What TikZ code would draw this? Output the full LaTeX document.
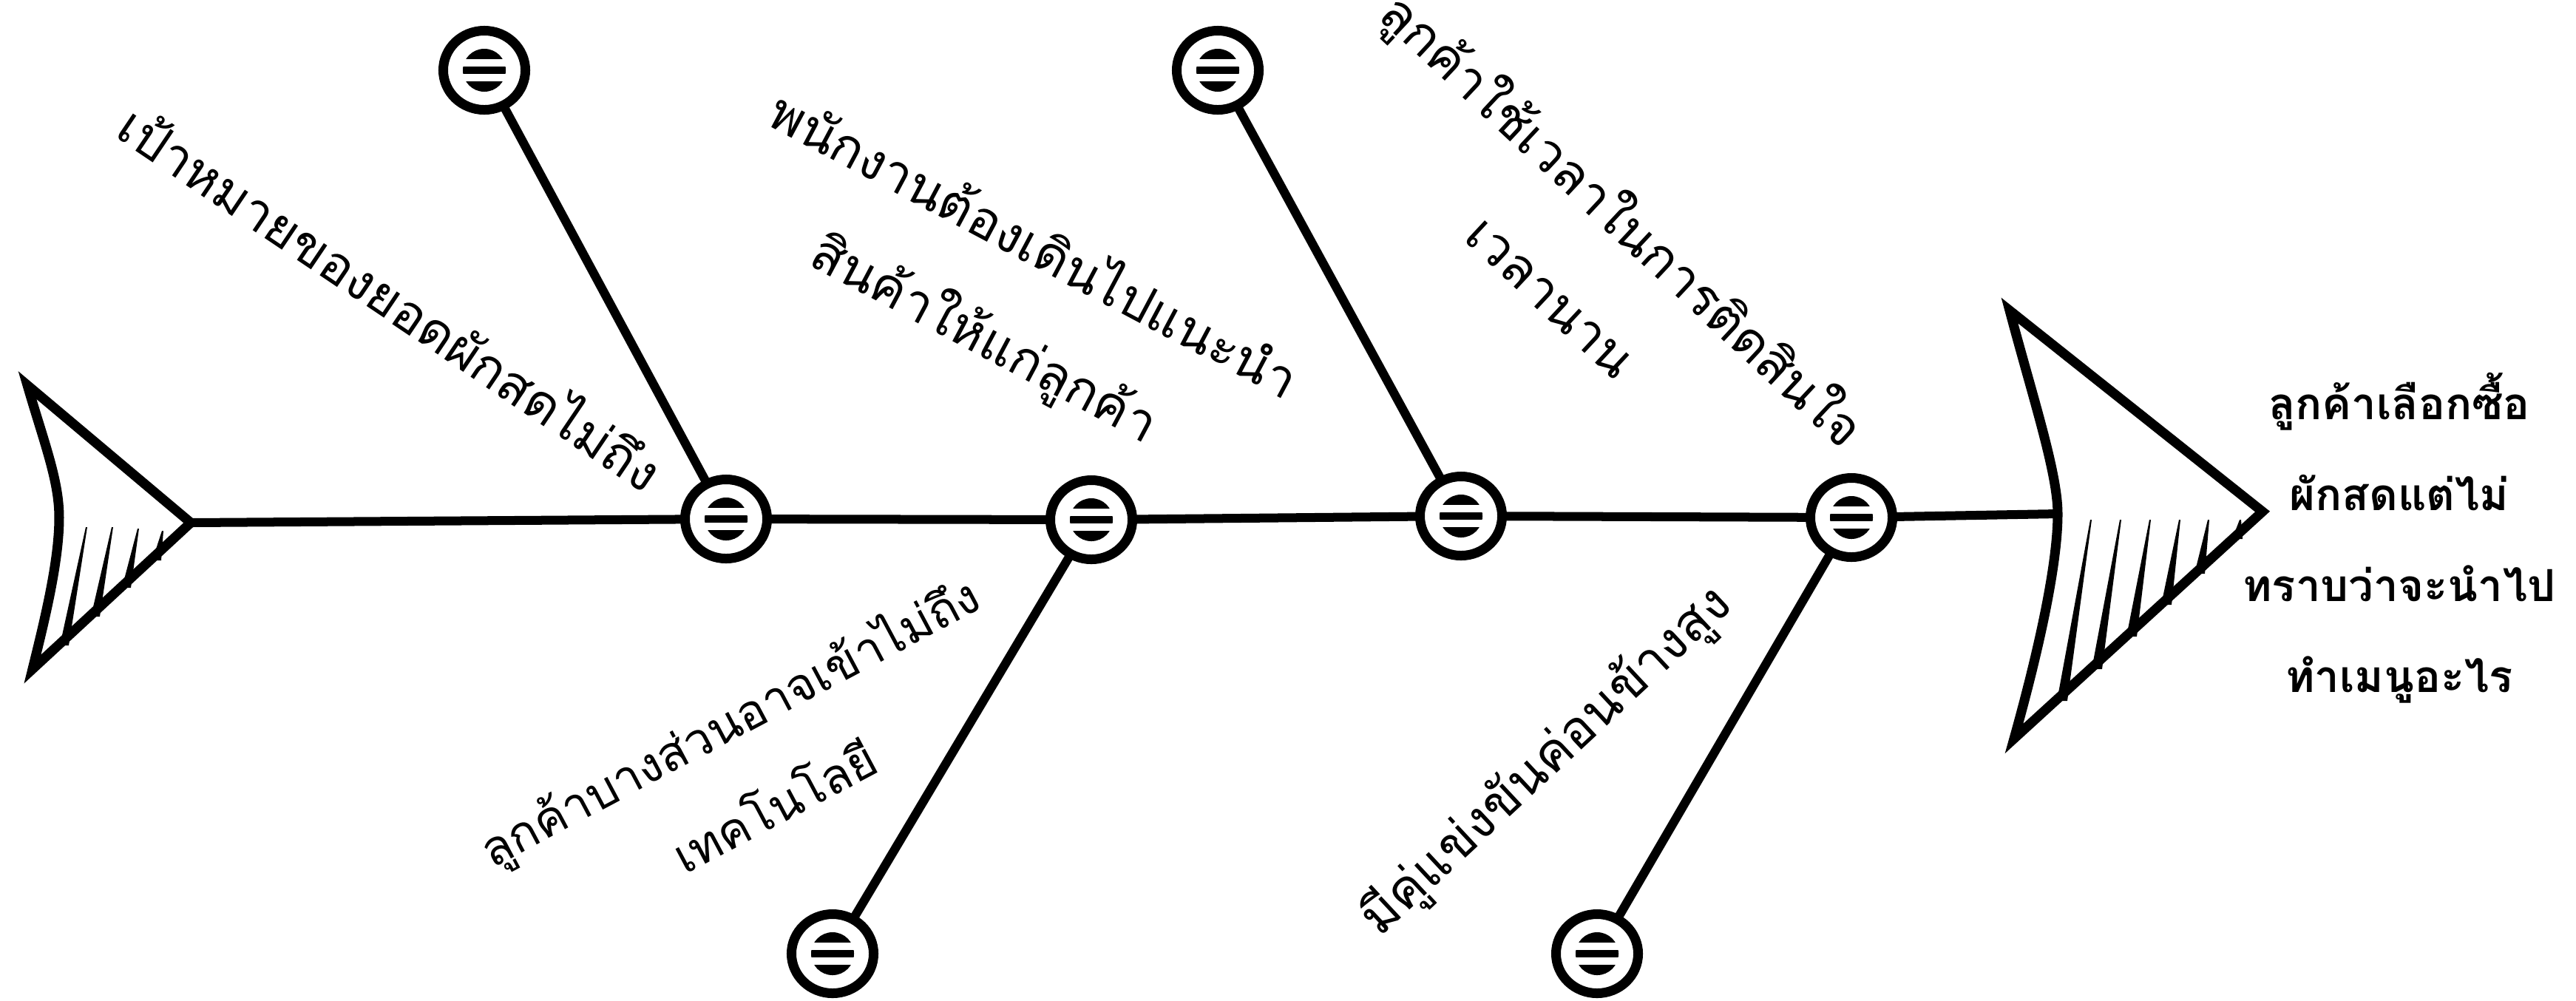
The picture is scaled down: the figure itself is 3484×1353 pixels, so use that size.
\documentclass[tikz,border=0pt]{standalone}
\usepackage{fontspec}
\newfontfamily\thai[Script=Thai]{Loma}
\usetikzlibrary{shapes.geometric}
\begin{document}
\begin{tikzpicture}[x=0.01cm,y=-0.01cm,
  fishline/.style={line width=0.12cm, line cap=round},
  bone/.style={line width=0.13cm, line join=miter},
  hub/.style={ellipse, draw, line width=0.13cm, fill=white, inner sep=0pt,
    minimum width=1.11cm, minimum height=1.07cm,
    path picture={
      \begin{scope}
        \clip (path picture bounding box.center) circle[radius=0.29cm];
        \fill[black] ([yshift=0.15cm]path picture bounding box.center) ++(-0.4cm,0) rectangle ++(0.8cm,0.2cm);
        \fill[black] ([yshift=-0.05cm]path picture bounding box.center) ++(-0.4cm,0) rectangle ++(0.8cm,0.1cm);
        \fill[black] ([yshift=-0.15cm]path picture bounding box.center) ++(-0.4cm,0) rectangle ++(0.8cm,-0.2cm);
      \end{scope}
    }},
  lbl/.style={font=\thai\fontsize{20}{40}\selectfont, align=center, inner sep=0pt},
  smalllbl/.style={font=\thai\fontsize{18.5}{37}\selectfont, align=center, inner sep=0pt},
  effect/.style={font=\thai\bfseries\fontsize{17}{35}\selectfont, align=center, inner sep=0pt}
]
\useasboundingbox[fill=white] (0,0) rectangle (3484,1353);

% tail
\draw[bone] (37,521) -- (258,707) -- (44,905)
  .. controls (60,840) and (80,760) .. (80,700)
  .. controls (80,650) and (60,600) .. cycle;
\foreach \bx/\by/\tx/\ty in {87/873/117/713, 129/834/152/713, 171/795/187/715, 212/758/220/718}
  \fill (\bx-6,\by) -- (\tx-1,\ty) -- (\tx+1,\ty) -- (\bx+6,\by) -- cycle;

% head
\draw[bone] (2718,420) -- (3060,692) -- (2724,999)
  .. controls (2760,870) and (2783,760) .. (2783,695)
  .. controls (2783,640) and (2750,540) .. cycle;
\foreach \bx/\by/\tx/\ty in {2789/948/2828/703, 2836/905/2868/703, 2883/861/2908/703, 2930/818/2948/703, 2975/776/2987/703, 3026/729/3030/703}
  \fill (\bx-7,\by) -- (\tx-1,\ty) -- (\tx+1,\ty) -- (\bx+7,\by) -- cycle;

\coordinate (tl) at (258,707);
\coordinate (hd) at (2783,695);

% hubs
\node[hub] (c1) at (982,702) {};
\node[hub] (c2) at (1476,703) {};
\node[hub] (c3) at (1976,698) {};
\node[hub] (c4) at (2504,700) {};
\node[hub] (t1) at (655,95) {};
\node[hub] (t2) at (1647,95) {};
\node[hub] (b1) at (1126,1290) {};
\node[hub] (b2) at (2160,1290) {};

% spine
\draw[fishline] (tl) -- (c1);
\draw[fishline] (c1) -- (c2);
\draw[fishline] (c2) -- (c3);
\draw[fishline] (c3) -- (c4);
\draw[fishline] (c4) -- (hd);

% branches
\draw[fishline] (t1) -- (c1);
\draw[fishline] (t2) -- (c3);
\draw[fishline] (b1) -- (c2);
\draw[fishline] (b2) -- (c4);

% labels
\node[lbl, rotate=-34] (l1) at (530,400) {เป้าหมายของยอดผักสดไม่ถึง};
\node[lbl, rotate=-28] (l2) at (1364,397) {พนักงานต้องเดินไปแนะนำ\\สินค้าให้แก่ลูกค้า};
\node[lbl, rotate=-43] (l3) at (2150,345) {ลูกค้าใช้เวลาในการติดสินใจ\\เวลานาน};
\node[smalllbl, rotate=28] (l4) at (1015,1030) {ลูกค้าบางส่วนอาจเข้าไม่ถึง\\เทคโนโลยี};
\node[lbl, rotate=43] (l5) at (2092,1030) {มีคู่แข่งขันค่อนข้างสูง};
\node[effect] (eff) at (3245,728) {ลูกค้าเลือกซื้อ\\ผักสดแต่ไม่\\ทราบว่าจะนำไป\\ทำเมนูอะไร};
\end{tikzpicture}
\end{document}
